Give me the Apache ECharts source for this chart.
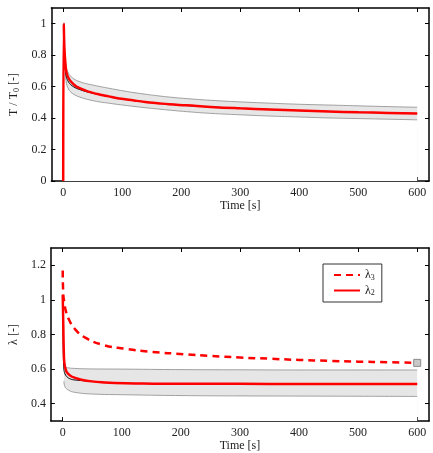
<!DOCTYPE html>
<html>
<head>
<meta charset="utf-8">
<title>T/T0 and lambda vs time</title>
<script src="https://cdn.jsdelivr.net/npm/echarts@6/dist/echarts.min.js"></script>
<style>
	html, body { margin: 0; padding: 0; background: #fff; }
	#chart { width: 433px; height: 453px; }
</style>
</head>
<body>
<div id="chart"></div>
<script>
	/*
	Data
	*/
	var timeTicks = [0, 100, 200, 300, 400, 500, 600];
	var tempTicks = [0, 0.2, 0.4, 0.6, 0.8, 1];
	var lambdaTicks = [0.4, 0.6, 0.8, 1, 1.2];

	// top panel: T / T0
	var tempTime = [0, 1, 2, 3.7, 5.6, 9, 13, 20, 27, 38, 49, 63, 77, 90, 105, 120, 139, 160, 179, 209, 250, 300, 350, 400, 450, 500, 550, 600];
	var tempSim  = [0, 1.0, 0.85, 0.75, 0.69, 0.655, 0.633, 0.607, 0.592, 0.575, 0.562, 0.549, 0.538, 0.528, 0.52, 0.512, 0.503, 0.495, 0.488, 0.481, 0.471, 0.462, 0.455, 0.448, 0.442, 0.437, 0.433, 0.429];

	var tempMeanTime = [1, 2, 3.7, 5.6, 9, 13, 20, 27, 38, 49, 63, 77, 90, 105, 139, 179, 250, 350, 450, 600];
	var tempMean     = [1.0, 0.8, 0.71, 0.66, 0.63, 0.612, 0.594, 0.583, 0.569, 0.559, 0.548, 0.538, 0.528, 0.52, 0.503, 0.488, 0.471, 0.455, 0.442, 0.429];

	var tempBandTime = [1, 2, 3.7, 5.6, 9, 13, 20, 27, 38, 49, 63, 77, 90, 105, 120, 139, 160, 179, 209, 250, 300, 350, 400, 450, 500, 550, 600];
	var tempUpper    = [1.0, 0.86, 0.77, 0.72, 0.685, 0.665, 0.645, 0.633, 0.62, 0.611, 0.6, 0.59, 0.581, 0.571, 0.562, 0.552, 0.542, 0.534, 0.524, 0.513, 0.503, 0.495, 0.488, 0.483, 0.478, 0.473, 0.469];
	var tempLower    = [1.0, 0.8, 0.68, 0.62, 0.585, 0.565, 0.547, 0.535, 0.522, 0.512, 0.502, 0.495, 0.488, 0.481, 0.474, 0.466, 0.458, 0.451, 0.441, 0.43, 0.421, 0.413, 0.407, 0.401, 0.397, 0.393, 0.389];

	// bottom panel: lambda
	var lam2Time = [0, 1, 2, 3, 5, 7, 13, 21, 30, 49, 70, 106, 154, 200, 300, 400, 500, 600];
	var lam2     = [1.03, 0.85, 0.68, 0.63, 0.60, 0.582, 0.562, 0.549, 0.54, 0.529, 0.523, 0.518, 0.516, 0.515, 0.515, 0.514, 0.514, 0.514];
	var lamMean  = [1.0, 0.7, 0.6, 0.58, 0.565, 0.556, 0.543, 0.537, 0.534, 0.529, 0.523, 0.518, 0.516, 0.515, 0.515, 0.514, 0.514, 0.514];

	var lam3Time = [0, 1, 3, 5, 10, 21, 38, 66, 106, 150, 206, 250, 300, 350, 400, 450, 500, 550, 600];
	var lam3     = [1.17, 1.03, 0.98, 0.94, 0.89, 0.83, 0.782, 0.742, 0.717, 0.70, 0.686, 0.676, 0.667, 0.66, 0.653, 0.648, 0.643, 0.64, 0.636];

	var lamBandTime = [2, 3, 5, 10, 20, 50, 100, 200, 300, 400, 500, 600];
	var lamUpper    = [0.625, 0.618, 0.612, 0.607, 0.604, 0.601, 0.60, 0.597, 0.596, 0.595, 0.595, 0.595];
	var lamLower    = [0.53, 0.505, 0.492, 0.478, 0.466, 0.456, 0.452, 0.447, 0.445, 0.444, 0.443, 0.442];

	/*
	Helpers
	*/
	var FONT = 'Liberation Serif';
	var TXT = '#222';

	function pairs(t, v) {
		var out = [];
		for (var i = 0; i < t.length; i++) {
			out.push([t[i], v[i]]);
		}
		return out;
	}

	var subRich = {
		a: { fontFamily: FONT, fontSize: 12, color: TXT },
		s: { fontFamily: FONT, fontSize: 8, color: TXT, verticalAlign: 'bottom', padding: [5, 0, 0, 0] }
	};

	function xAxisFor(grid, pos) {
		var main = pos === 'bottom';
		return {
			type: 'value', gridIndex: grid, position: pos, min: -20, max: 620,
			name: main ? 'Time [s]' : '', nameLocation: 'middle', nameGap: 18,
			nameTextStyle: { fontFamily: FONT, fontSize: 12, color: TXT },
			axisLine: { onZero: false, lineStyle: { color: '#000', width: 1.5 } },
			axisTick: { show: true, inside: true, length: 4, customValues: timeTicks, lineStyle: { color: '#000', width: 1 } },
			axisLabel: { show: main, customValues: timeTicks, margin: 6, fontFamily: FONT, fontSize: 12, color: TXT },
			splitLine: { show: false }
		};
	}

	function yAxisFor(grid, pos, min, max, ticks, name) {
		var main = pos === 'left';
		return {
			type: 'value', gridIndex: grid, position: pos, min: min, max: max,
			name: main ? name : '', nameLocation: 'middle', nameGap: 28,
			nameTextStyle: { fontFamily: FONT, fontSize: 12, color: TXT, rich: subRich },
			axisLine: { onZero: false, lineStyle: { color: '#000', width: 1.5 } },
			axisTick: { show: true, inside: true, length: 4, customValues: ticks, lineStyle: { color: '#000', width: 1 } },
			axisLabel: { show: main, customValues: ticks, margin: 5, fontFamily: FONT, fontSize: 12, color: TXT },
			splitLine: { show: false }
		};
	}

	// grey band: upper curve filled down to the axis, lower curve filled white on top of it
	function bandSeries(xi, yi, t, hi, lo) {
		return [{
			type: 'line', xAxisIndex: xi, yAxisIndex: yi,
			data: pairs(t, hi), symbol: 'none', smooth: true,
			lineStyle: { color: '#8a8a8a', width: 0.8 },
			areaStyle: { color: '#e6e6e6', opacity: 1, origin: 'start' }, z: 1, silent: true
		}, {
			type: 'line', xAxisIndex: xi, yAxisIndex: yi,
			data: pairs(t, lo), symbol: 'none', smooth: true,
			lineStyle: { color: '#8a8a8a', width: 0.8 },
			areaStyle: { color: '#ffffff', opacity: 1, origin: 'start', shadowColor: '#ffffff', shadowOffsetX: -1.5, shadowBlur: 0 },
			z: 1, silent: true
		}];
	}

	/*
	Chart
	*/
	var chart = echarts.init(document.getElementById('chart'), null, { renderer: 'canvas' });

	var series = [];
	series = series.concat(bandSeries(0, 0, tempBandTime, tempUpper, tempLower));
	series.push({
		type: 'line', xAxisIndex: 0, yAxisIndex: 0, data: pairs(tempMeanTime, tempMean),
		symbol: 'none', smooth: true, lineStyle: { color: '#000', width: 1 }, z: 2
	});
	series.push({
		type: 'line', xAxisIndex: 0, yAxisIndex: 0, data: pairs(tempTime, tempSim),
		symbol: 'none', smooth: true, lineStyle: { color: '#ff0000', width: 2.5 }, z: 3
	});

	series = series.concat(bandSeries(2, 2, lamBandTime, lamUpper, lamLower));
	series.push({
		type: 'line', xAxisIndex: 2, yAxisIndex: 2, data: pairs(lam2Time, lamMean),
		symbol: 'none', smooth: true, lineStyle: { color: '#000', width: 1 }, z: 2
	});
	series.push({
		name: 'λ3', type: 'line', xAxisIndex: 2, yAxisIndex: 2, data: pairs(lam3Time, lam3),
		symbol: 'none', smooth: true, itemStyle: { color: '#ff0000' },
		lineStyle: { color: '#ff0000', width: 2.5, type: [7, 5] }, z: 3
	});
	series.push({
		name: 'λ2', type: 'line', xAxisIndex: 2, yAxisIndex: 2, data: pairs(lam2Time, lam2),
		symbol: 'none', smooth: true, itemStyle: { color: '#ff0000' },
		lineStyle: { color: '#ff0000', width: 2.5 }, z: 3
	});
	// grey end marker on the lambda3 curve
	series.push({
		type: 'scatter', xAxisIndex: 2, yAxisIndex: 2,
		data: [[lam3Time[lam3Time.length - 1], lam3[lam3.length - 1]]],
		symbol: 'rect', symbolSize: 7,
		itemStyle: { color: '#c8c8c8', borderColor: '#8c8c8c', borderWidth: 1, opacity: 1 }, z: 4
	});

	var option = {
		animation: false,
		backgroundColor: '#fff',
		grid: [
			{ left: 47, top: 8, width: 382, height: 173 },
			{ left: 47, top: 248, width: 382, height: 173 }
		],
		xAxis: [xAxisFor(0, 'bottom'), xAxisFor(0, 'top'), xAxisFor(1, 'bottom'), xAxisFor(1, 'top')],
		yAxis: [
			yAxisFor(0, 'left', 0, 1.1, tempTicks, '{a|T / T}{s|0}{a| [-]}'),
			yAxisFor(0, 'right', 0, 1.1, tempTicks, ''),
			yAxisFor(1, 'left', 0.3, 1.3, lambdaTicks, '{a|λ [-]}'),
			yAxisFor(1, 'right', 0.3, 1.3, lambdaTicks, '')
		],
		legend: {
			data: ['λ3', 'λ2'],
			orient: 'vertical', left: 323, top: 264,
			borderColor: '#333', borderWidth: 1, borderRadius: 0,
			padding: [5, 7, 5, 10], itemGap: 3, itemWidth: 26, itemHeight: 12,
			backgroundColor: '#fff',
			itemStyle: { color: 'rgba(0,0,0,0)', borderWidth: 0, opacity: 0 },
			formatter: function (name) {
				return '{a|λ}{s|' + name.slice(1) + '}';
			},
			textStyle: { rich: subRich }
		},
		series: series
	};

	chart.setOption(option);
</script>
</body>
</html>
